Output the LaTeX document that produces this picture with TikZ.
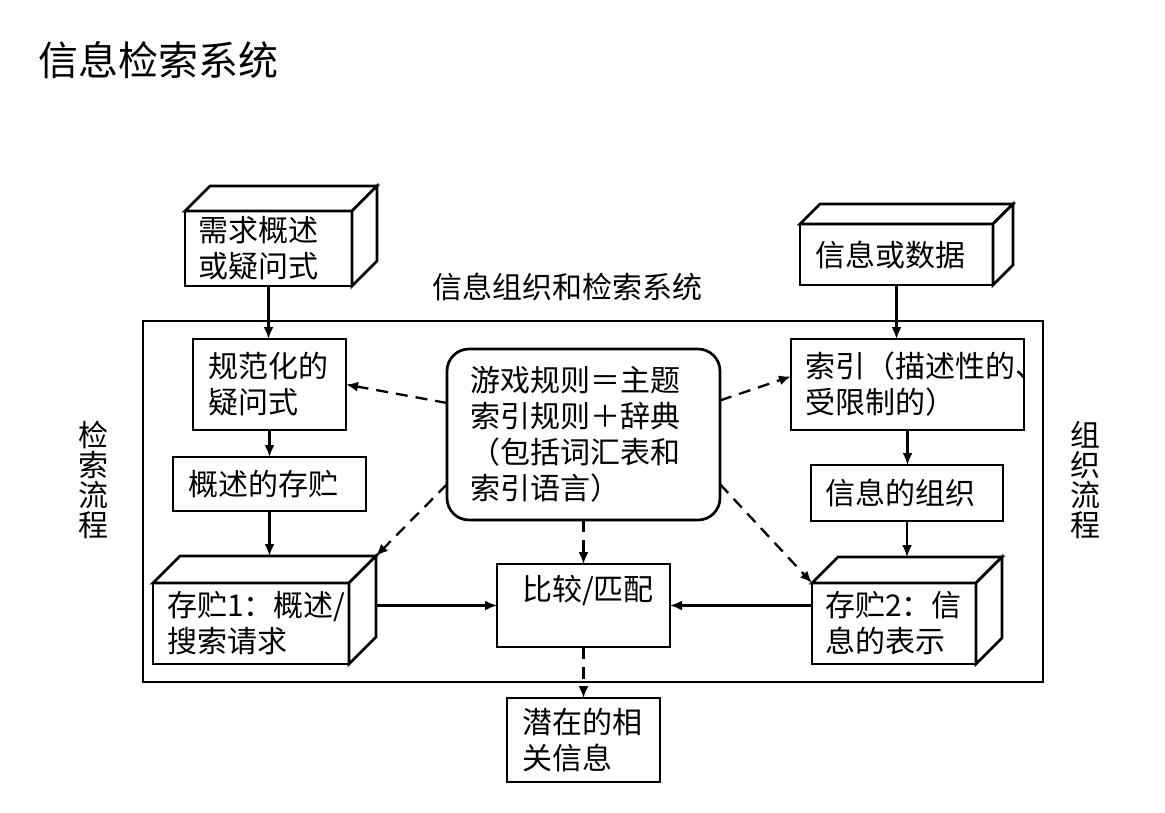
\documentclass[tikz,border=0pt]{standalone}
\usepackage{fontspec}
\setmainfont{Noto Sans CJK SC}
\usetikzlibrary{arrows.meta,calc}
\newcommand{\boxfaces}[2]{%
  \draw[bx] (#1.north west) -- ++(#2,-#2) -- ($(#1.north east)+(#2,-#2)$) -- (#1.north east) -- cycle;
  \draw[bx] (#1.north east) -- ++(#2,-#2) -- ($(#1.south east)+(#2,-#2)$) -- (#1.south east) -- cycle;
}
\begin{document}
\begin{tikzpicture}[x=1pt,y=-1pt,
  bx/.style={draw, line width=2.7pt, fill=white, outer sep=0pt, inner sep=0pt, line join=miter},
  txt/.style={font=\fontsize{30}{36}\selectfont},
  tb/.style={bx, txt, anchor=north west, align=left},
  arr/.style={line width=2.3pt, -{Latex[length=12pt,width=10pt]}},
  darr/.style={arr, dash pattern=on 12pt off 8pt},
]
\fill[white] (0,0) rectangle (1165,812);
\useasboundingbox (0,0) rectangle (1165,812);

% title and labels
\node[font=\fontsize{40}{48}\selectfont, anchor=west, inner sep=0pt] (title) at (38,60) {信息检索系统};
\node[txt, inner sep=0pt] (syslab) at (567,287) {信息组织和检索系统};
\node[font=\fontsize{30}{30}\selectfont, align=center, inner sep=0pt] (lret) at (93,480) {检\\索\\流\\程};
\node[font=\fontsize{30}{30}\selectfont, align=center, inner sep=0pt] (lorg) at (1085,480) {组\\织\\流\\程};

% outer system frame
\node[bx, anchor=north west, minimum width=900pt, minimum height=361pt] (sys) at (143,321) {};

% 3D boxes
\node[tb, minimum width=167pt, minimum height=75pt, text width=141pt] (req) at (185,211) {需求概述\\或疑问式};
\boxfaces{req}{25}
\node[tb, minimum width=193pt, minimum height=61pt, text width=163pt] (info) at (800,224) {信息或数据};
\boxfaces{info}{20}
\node[tb, minimum width=196pt, minimum height=81pt, text width=168pt] (s1) at (153,583) {存贮1：概述/\\搜索请求};
\boxfaces{s1}{27}
\node[tb, minimum width=164pt, minimum height=81pt, text width=138pt] (s2) at (812,583) {存贮2：信\\息的表示};
\boxfaces{s2}{26}

% plain boxes
\node[tb, minimum width=153pt, minimum height=91pt, text width=123pt] (norm) at (193,339) {规范化的\\疑问式};
\node[tb, minimum width=193pt, minimum height=54pt, text width=163pt] (summ) at (173,457) {概述的存贮};
\node[tb, minimum width=233pt, minimum height=91pt, text width=205pt] (idx) at (791,339) {索引（描述性的、\\受限制的）};
\node[tb, minimum width=192pt, minimum height=56pt, text width=164pt] (org) at (811,465) {信息的组织};
\node[tb, rounded corners=22pt, minimum width=273pt, minimum height=171pt, text width=227pt] (rules) at (447,349) {游戏规则＝主题\\索引规则＋辞典\\（包括词汇表和\\索引语言）};
\node[tb, minimum width=173pt, minimum height=83pt, text width=123pt] (cmp) at (497,564) {比较/匹配\\\mbox{}};
\node[tb, minimum width=153pt, minimum height=84pt, text width=123pt] (out) at (507,698) {潜在的相\\关信息};

% solid connectors
\coordinate (s1b) at ($(s1.north west)+(27,-27)$);
\coordinate (s2b) at ($(s2.north west)+(26,-26)$);
\coordinate (s1r) at ($(s1.east)+(27,-27)$);
\coordinate (s1c) at ($(s1.north east)+(27,-27)$);
\draw[arr] (req.south) -- (req.south |- norm.north);
\draw[arr] (norm.south) -- (norm.south |- summ.north);
\draw[arr] (summ.south) -- (summ.south |- s1b);
\draw[arr] (info.south) -- (info.south |- idx.north);
\draw[arr] (idx.south) -- (idx.south |- org.north);
\draw[arr] (org.south) -- (org.south |- s2b);
\draw[arr] (s1r |- cmp.west) -- (cmp.west);
\draw[arr] (s2.west |- cmp.east) -- (cmp.east);

% dashed connectors
\draw[darr] (rules.167) -- (norm.east);
\draw[darr] (rules.14) -- (idx.176);
\draw[darr] (rules.200) -- (s1c);
\draw[darr] (rules.340) -- (s2.north west);
\draw[darr] (rules.south) -- (cmp.north);
\draw[darr] (cmp.south) -- (out.north);
\end{tikzpicture}
\end{document}
